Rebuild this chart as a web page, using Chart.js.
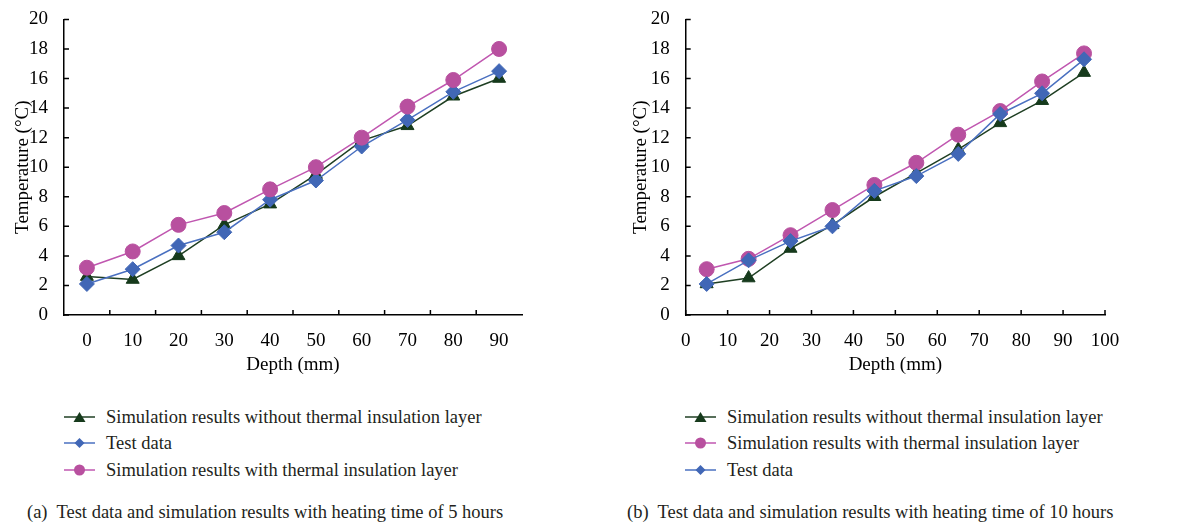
<!DOCTYPE html>
<html>
<head>
<meta charset="utf-8">
<script src="https://cdn.jsdelivr.net/npm/chart.js@4"></script>
<style>
  html, body { margin: 0; padding: 0; background: #fff; }
  #wrap { position: relative; width: 1193px; height: 524px; overflow: hidden; font-family: "Liberation Serif", "DejaVu Serif", serif; color: #231f20; }
  canvas { position: absolute; top: 0; }
  .leg { position: absolute; display: flex; align-items: center; font-size: 18.5px; line-height: 20px; white-space: nowrap; }
  .leg svg { margin-right: 11px; }
  .cap { position: absolute; font-size: 18.5px; white-space: pre; line-height: 20px; color: #231f20; }
</style>
</head>
<body>
<div id="wrap">
  <canvas id="chartA" width="540" height="385" style="left:0px"></canvas>
  <canvas id="chartB" width="540" height="385" style="left:600px"></canvas>
  <div id="legA"></div>
  <div id="legB"></div>
  <div class="cap" style="left:27px; top:502px">(a)  Test data and simulation results with heating time of 5 hours</div>
  <div class="cap" style="left:627px; top:502px">(b)  Test data and simulation results with heating time of 10 hours</div>
</div>
<script>
// ---------- data ----------
const depthA = [0, 10, 20, 30, 40, 50, 60, 70, 80, 90];
const noInsulationA = [2.6, 2.4, 4.0, 6.1, 7.5, 9.5, 11.8, 12.8, 14.8, 16.0];
const testDataA = [2.1, 3.1, 4.7, 5.6, 7.8, 9.1, 11.4, 13.2, 15.1, 16.5];
const withInsulationA = [3.2, 4.3, 6.1, 6.9, 8.5, 10.0, 12.0, 14.1, 15.9, 18.0];

const depthB = [5, 15, 25, 35, 45, 55, 65, 75, 85, 95];
const noInsulationB = [2.1, 2.5, 4.5, 6.1, 8.0, 9.6, 11.2, 13.0, 14.5, 16.4];
const withInsulationB = [3.1, 3.8, 5.4, 7.1, 8.8, 10.3, 12.2, 13.8, 15.8, 17.7];
const testDataB = [2.1, 3.7, 5.0, 6.0, 8.4, 9.4, 10.9, 13.6, 15.0, 17.3];

const labelNo = "Simulation results without thermal insulation layer";
const labelWith = "Simulation results with thermal insulation layer";
const labelTest = "Test data";
const xTitle = "Depth (mm)";
const yTitle = "Temperature (°C)";

// ---------- styles ----------
const S = {
  no:   { line: '#1f3f23', fill: '#163a1c', style: 'triangle', radius: 7.5 },
  test: { line: '#4a70c0', fill: '#4167b6', style: 'rectRot', radius: 7.5 },
  with: { line: '#c057b0', fill: '#b8509f', style: 'circle', radius: 7.5 }
};
const FONT = "'Liberation Serif', 'DejaVu Serif', serif";

function ds(label, data, st) {
  return {
    label, data,
    borderColor: st.line, borderWidth: 1.5,
    pointStyle: st.style, pointRadius: st.radius, pointHoverRadius: st.radius,
    pointBackgroundColor: st.fill, pointBorderColor: st.fill, pointBorderWidth: 1,
    fill: false, tension: 0
  };
}

const innerTicks = {
  id: 'innerTicks',
  afterDraw(chart) {
    const { ctx, chartArea, scales: { x, y } } = chart;
    ctx.save();
    ctx.strokeStyle = '#000';
    ctx.lineWidth = 1.5;
    ctx.beginPath();
    y.ticks.forEach(t => {
      const py = y.getPixelForValue(t.value);
      ctx.moveTo(chartArea.left, py); ctx.lineTo(chartArea.left + 5, py);
    });
    if (x.type === 'category') {
      const n = chart.data.labels.length;
      for (let i = 1; i < n; i++) {
        const px = (x.getPixelForValue(i - 1) + x.getPixelForValue(i)) / 2;
        ctx.moveTo(px, chartArea.bottom); ctx.lineTo(px, chartArea.bottom - 5);
      }
    } else {
      x.ticks.forEach(t => {
        const px = x.getPixelForValue(t.value);
        ctx.moveTo(px, chartArea.bottom); ctx.lineTo(px, chartArea.bottom - 5);
      });
    }
    ctx.stroke();
    ctx.restore();
  }
};

function makeOptions(xScale, leftW, yTitlePad) {
  return {
    responsive: false,
    animation: false,
    events: [],
    layout: { padding: { top: 16, right: 540 - (leftW + (xScale.type === 'linear' ? 419.3 : 458)), left: 0, bottom: 0 } },
    plugins: { legend: { display: false }, tooltip: { enabled: false } },
    scales: {
      x: Object.assign({
        grid: { display: false },
        border: { display: true, color: '#000', width: 1.5 },
        ticks: { color: '#000', font: { family: FONT, size: 19 }, padding: 7, maxRotation: 0, autoSkip: false },
        title: { display: true, text: xTitle, color: '#000', font: { family: FONT, size: 19 }, padding: { top: 4, bottom: 8.6 } },
        afterFit: s => { s.height = 385 - 315; }
      }, xScale),
      y: {
        min: 0, max: 20,
        grid: { display: false },
        border: { display: true, color: '#000', width: 1.5 },
        ticks: { stepSize: 2, color: '#000', font: { family: FONT, size: 19 }, padding: 8 },
        title: { display: true, text: yTitle, color: '#000', font: { family: FONT, size: 19 }, padding: { top: yTitlePad, bottom: 0 } },
        afterFit: s => { s.width = leftW; }
      }
    }
  };
}

new Chart(document.getElementById('chartA'), {
  type: 'line',
  data: {
    labels: depthA.map(String),
    datasets: [
      ds(labelWith, withInsulationA, S.with),
      ds(labelTest, testDataA, S.test),
      ds(labelNo, noInsulationA, S.no)
    ]
  },
  options: makeOptions({ type: 'category', offset: true }, 64, 11.2),
  plugins: [innerTicks]
});

new Chart(document.getElementById('chartB'), {
  type: 'line',
  data: {
    datasets: [
      ds(labelTest, depthB.map((d, i) => ({ x: d, y: testDataB[i] })), S.test),
      ds(labelWith, depthB.map((d, i) => ({ x: d, y: withInsulationB[i] })), S.with),
      ds(labelNo, depthB.map((d, i) => ({ x: d, y: noInsulationB[i] })), S.no)
    ]
  },
  options: makeOptions({ type: 'linear', min: 0, max: 100, ticks: { stepSize: 10, color: '#000', font: { family: FONT, size: 19 }, padding: 7, maxRotation: 0, autoSkip: false } }, 85.7, 29.2),
  plugins: [innerTicks]
});

// ---------- legends (HTML) ----------
function symbol(st) {
  let m;
  if (st.style === 'triangle') m = `<polygon points="15.5,1 21.5,11 9.5,11" fill="${st.fill}"/>`;
  else if (st.style === 'rectRot') m = `<polygon points="15.5,1 20.5,6 15.5,11 10.5,6" fill="${st.fill}"/>`;
  else m = `<circle cx="15.5" cy="6" r="5.5" fill="${st.fill}"/>`;
  return `<svg width="31" height="12" viewBox="0 0 31 12"><line x1="0" y1="6" x2="31" y2="6" stroke="${st.line}" stroke-width="1.5"/>${m}</svg>`;
}
function buildLegend(id, left, items) {
  const el = document.getElementById(id);
  const tops = [407, 433, 460];
  items.forEach((it, i) => {
    const d = document.createElement('div');
    d.className = 'leg';
    d.style.left = left + 'px';
    d.style.top = tops[i] + 'px';
    d.innerHTML = symbol(it.st) + '<span>' + it.label + '</span>';
    el.appendChild(d);
  });
}
buildLegend('legA', 64, [
  { label: labelNo, st: S.no },
  { label: labelTest, st: S.test },
  { label: labelWith, st: S.with }
]);
buildLegend('legB', 685, [
  { label: labelNo, st: S.no },
  { label: labelWith, st: S.with },
  { label: labelTest, st: S.test }
]);
</script>
</body>
</html>
